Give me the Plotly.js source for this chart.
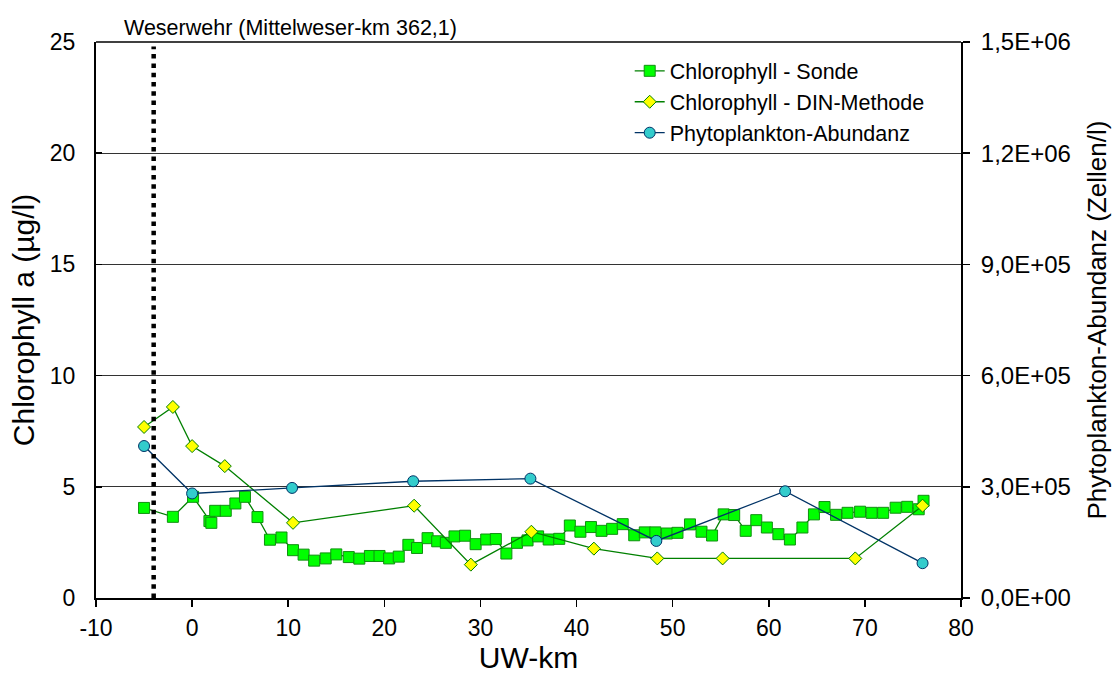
<!DOCTYPE html>
<html>
<head>
<meta charset="utf-8">
<script src="https://cdn.plot.ly/plotly-3.0.1.min.js"></script>
<style>html,body{margin:0;padding:0;background:#fff;}#chart{width:1119px;height:679px;}</style>
</head>
<body>
<div id="chart"></div>
<script>
// Chlorophyll - Sonde
const sondeKm = [-5, -2, 0.1, 1.8, 2.0, 2.4, 3.5, 4.5, 5.5, 6.8, 8.1, 9.3, 10.5, 11.6, 12.7, 13.9, 15.0, 16.3, 17.4, 18.5, 19.5, 20.5, 21.5, 22.5, 23.4, 24.5, 25.5, 26.4, 27.3, 28.4, 29.5, 30.6, 31.6, 32.7, 33.8, 34.9, 36.0, 37.1, 38.2, 39.3, 40.4, 41.5, 42.6, 43.7, 44.8, 46.0, 47.1, 48.2, 49.4, 50.5, 51.8, 53.0, 54.1, 55.3, 56.4, 57.6, 58.7, 59.8, 61.0, 62.2, 63.5, 64.7, 65.8, 67.0, 68.2, 69.5, 70.7, 71.9, 73.2, 74.4, 75.6, 76.1];
const sondeChl = [4.05, 3.65, 4.55, 3.46, 3.38, 3.92, 3.92, 4.25, 4.55, 3.64, 2.62, 2.72, 2.15, 1.95, 1.68, 1.78, 1.96, 1.84, 1.77, 1.89, 1.89, 1.78, 1.86, 2.39, 2.25, 2.69, 2.55, 2.48, 2.77, 2.8, 2.42, 2.63, 2.65, 2.0, 2.48, 2.59, 2.77, 2.63, 2.66, 3.26, 2.98, 3.19, 3.02, 3.11, 3.32, 2.82, 2.95, 2.95, 2.9, 2.93, 3.31, 2.98, 2.81, 3.76, 3.73, 3.02, 3.5, 3.17, 2.87, 2.63, 3.17, 3.76, 4.09, 3.74, 3.83, 3.88, 3.83, 3.83, 4.06, 4.1, 3.99, 4.37];
// Chlorophyll - DIN-Methode
const dinKm = [-5, -2, 0, 3.4, 10.5, 23.1, 29.0, 35.3, 41.8, 48.4, 55.2, 69.0, 76.0];
const dinChl = [7.69, 8.59, 6.83, 5.93, 3.38, 4.15, 1.5, 2.98, 2.22, 1.78, 1.78, 1.78, 4.15];
// Phytoplankton-Abundanz (Zellen/l)
const phytoKm = [-5, 0, 10.4, 23.0, 35.2, 48.3, 61.7, 76.0];
const phytoAbund = [410000, 282000, 297000, 315000, 322000, 154000, 288000, 94000];
// Weir position (UW-km)
const weirKm = -4;
const weirLabel = 'Weserwehr (Mittelweser-km 362,1)';
// axis ticks
const xTicks = [-10, 0, 10, 20, 30, 40, 50, 60, 70, 80];
const yTicks = [0, 5, 10, 15, 20, 25];
const y2Ticks = [0, 300000, 600000, 900000, 1200000, 1500000];
const y2TickText = ['0,0E+00', '3,0E+05', '6,0E+05', '9,0E+05', '1,2E+06', '1,5E+06'];

const FONT = 'Liberation Sans, Arial, sans-serif';

const traces = [
  {
    x: sondeKm, y: sondeChl, name: 'Chlorophyll - Sonde', type: 'scatter', mode: 'lines+markers',
    line: {color: '#008000', width: 1.3},
    marker: {symbol: 'square', size: 11, color: '#00FF00', line: {color: '#109010', width: 1}},
    legendgroup: 'a'
  },
  {
    x: dinKm, y: dinChl, name: 'Chlorophyll - DIN-Methode', type: 'scatter', mode: 'lines+markers',
    line: {color: '#008000', width: 1.3},
    marker: {symbol: 'diamond', size: 10, color: '#FFFF00', line: {color: '#008000', width: 1}},
    legendgroup: 'b'
  },
  {
    x: phytoKm, y: phytoAbund, name: 'Phytoplankton-Abundanz', type: 'scatter', mode: 'lines+markers',
    yaxis: 'y2',
    line: {color: '#003366', width: 1.3},
    marker: {symbol: 'circle', size: 11, color: '#33CCCC', line: {color: '#003366', width: 1}},
    legendgroup: 'c'
  }
];

const layout = {
  width: 1119, height: 679,
  margin: {l: 96, r: 158, t: 42, b: 81},
  paper_bgcolor: '#fff', plot_bgcolor: '#fff',
  font: {family: FONT, color: '#000', size: 22},
  showlegend: true,
  legend: {
    x: 0.617, y: 0.985, xanchor: 'left', yanchor: 'top',
    bgcolor: 'rgba(0,0,0,0)', borderwidth: 0,
    font: {family: FONT, size: 21.5, color: '#000'},
    traceorder: 'grouped', tracegroupgap: 0
  },
  xaxis: {
    range: [-10, 80], tickvals: xTicks, ticktext: xTicks.map(String),
    showgrid: false, zeroline: false,
    showline: true, linecolor: '#000', linewidth: 2, mirror: false,
    ticks: 'outside', ticklen: 7, tickwidth: 1.5, tickcolor: '#000',
    tickfont: {size: 23, family: FONT}, ticklabelstandoff: 1,
    title: {text: 'UW-km', font: {size: 30, family: FONT}, standoff: 4}
  },
  yaxis: {
    range: [0, 25], tickvals: yTicks, ticktext: yTicks.map(String),
    showgrid: true, gridcolor: '#333', gridwidth: 1, zeroline: false,
    showline: true, linecolor: '#000', linewidth: 2,
    ticks: 'inside', ticklen: 6, tickwidth: 1.5, tickcolor: '#000',
    tickfont: {size: 23, family: FONT}, ticklabelstandoff: 14,
    title: {text: 'Chlorophyll a (µg/l)', font: {size: 30, family: FONT}, standoff: 6}
  },
  yaxis2: {
    range: [0, 1500000], overlaying: 'y', side: 'right',
    tickvals: y2Ticks, ticktext: y2TickText,
    showgrid: false, zeroline: false,
    showline: true, linecolor: '#000', linewidth: 2,
    ticks: 'outside', ticklen: 7, tickwidth: 1.5, tickcolor: '#000',
    tickfont: {size: 24, family: FONT}, ticklabelstandoff: 6,
    title: {text: 'Phytoplankton-Abundanz (Zellen/l)', font: {size: 26, family: FONT}, standoff: 18}
  },
  shapes: [
    {type: 'line', xref: 'paper', yref: 'paper', x0: 0, x1: 1, y0: 1, y1: 1, line: {color: '#000', width: 1.5}},
    {type: 'line', xref: 'x', yref: 'y', x0: weirKm, x1: weirKm, y0: 0, y1: 24.8, line: {color: '#000', width: 4.5, dash: '4.5px,4.8px'}}
  ],
  annotations: [
    {x: weirKm, y: 1, xref: 'x', yref: 'paper', text: weirLabel, showarrow: false,
     xanchor: 'center', yanchor: 'bottom', xshift: 137, yshift: 0,
     font: {size: 21.5, family: FONT, color: '#000'}}
  ]
};

Plotly.newPlot('chart', traces, layout, {displayModeBar: false, staticPlot: true});
</script>
</body>
</html>
